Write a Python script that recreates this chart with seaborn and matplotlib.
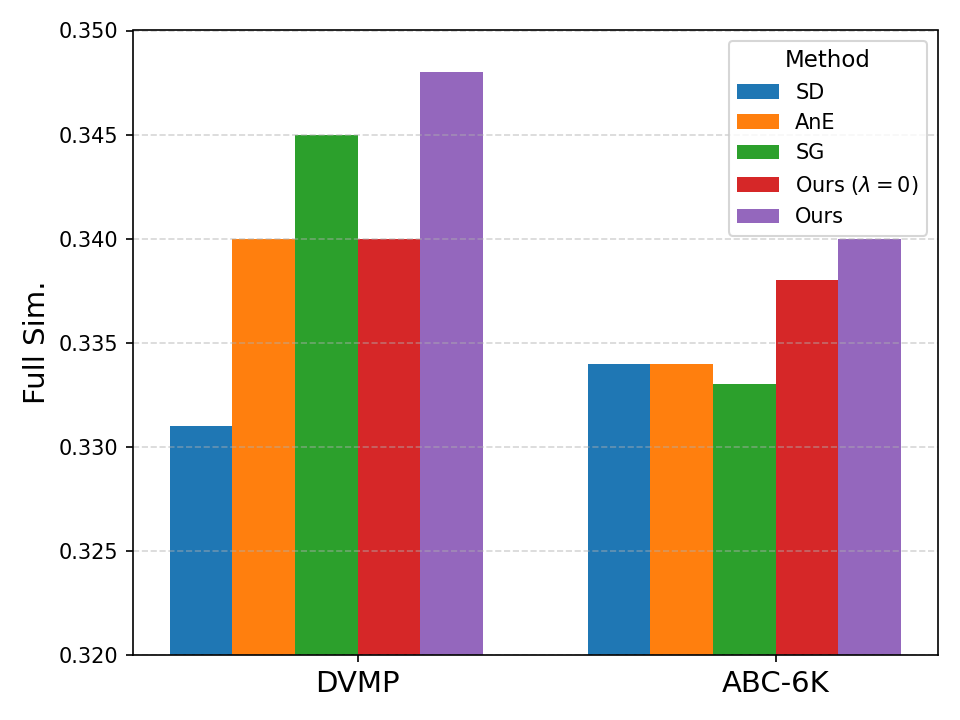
import numpy as np
import pandas as pd
import seaborn as sns
import matplotlib.pyplot as plt

# values
datasets = ["DVMP", "ABC-6K"]
methods = ["SD", "AnE", "SG", r"Ours ($\lambda=0$)", "Ours"]
dvmp = [0.331, 0.340, 0.345, 0.340, 0.348]
abc6k = [0.334, 0.334, 0.333, 0.338, 0.340]

rows = []
for m, a, b in zip(methods, dvmp, abc6k):
    rows.append({"Dataset": "DVMP", "Method": m, "Full Sim.": a})
    rows.append({"Dataset": "ABC-6K", "Method": m, "Full Sim.": b})
df = pd.DataFrame(rows)

colors = sns.color_palette("tab10", 5)

fig, ax = plt.subplots(figsize=(6.4, 4.8), dpi=150)
sns.barplot(data=df, x="Dataset", y="Full Sim.", hue="Method", order=datasets,
            hue_order=methods, palette=colors, saturation=1, width=0.75,
            linewidth=0, ax=ax)

# original ticks sit on the 3rd/4th bar boundary
ax.set_xticks([0.075, 1.075])
ax.set_xticklabels(datasets, fontsize=14)
ax.set_xlim(-0.4625, 1.4625)
ax.set_xlabel("")
ax.set_ylim(0.320, 0.350)
yt = np.arange(0.320, 0.3501, 0.005)
ax.set_yticks(yt)
ax.set_yticklabels([f"{v:.3f}" for v in yt], fontsize=10)
ax.set_ylabel("Full Sim.", fontsize=14)
ax.grid(axis="y", linestyle="--", alpha=0.5)
ax.set_axisbelow(False)  # grid over bars
for s in ax.spines.values():
    s.set_zorder(3)
ax.legend(title="Method", loc="upper right", fontsize=10, title_fontsize=11)

plt.tight_layout()
plt.savefig("out.png", dpi=150)
